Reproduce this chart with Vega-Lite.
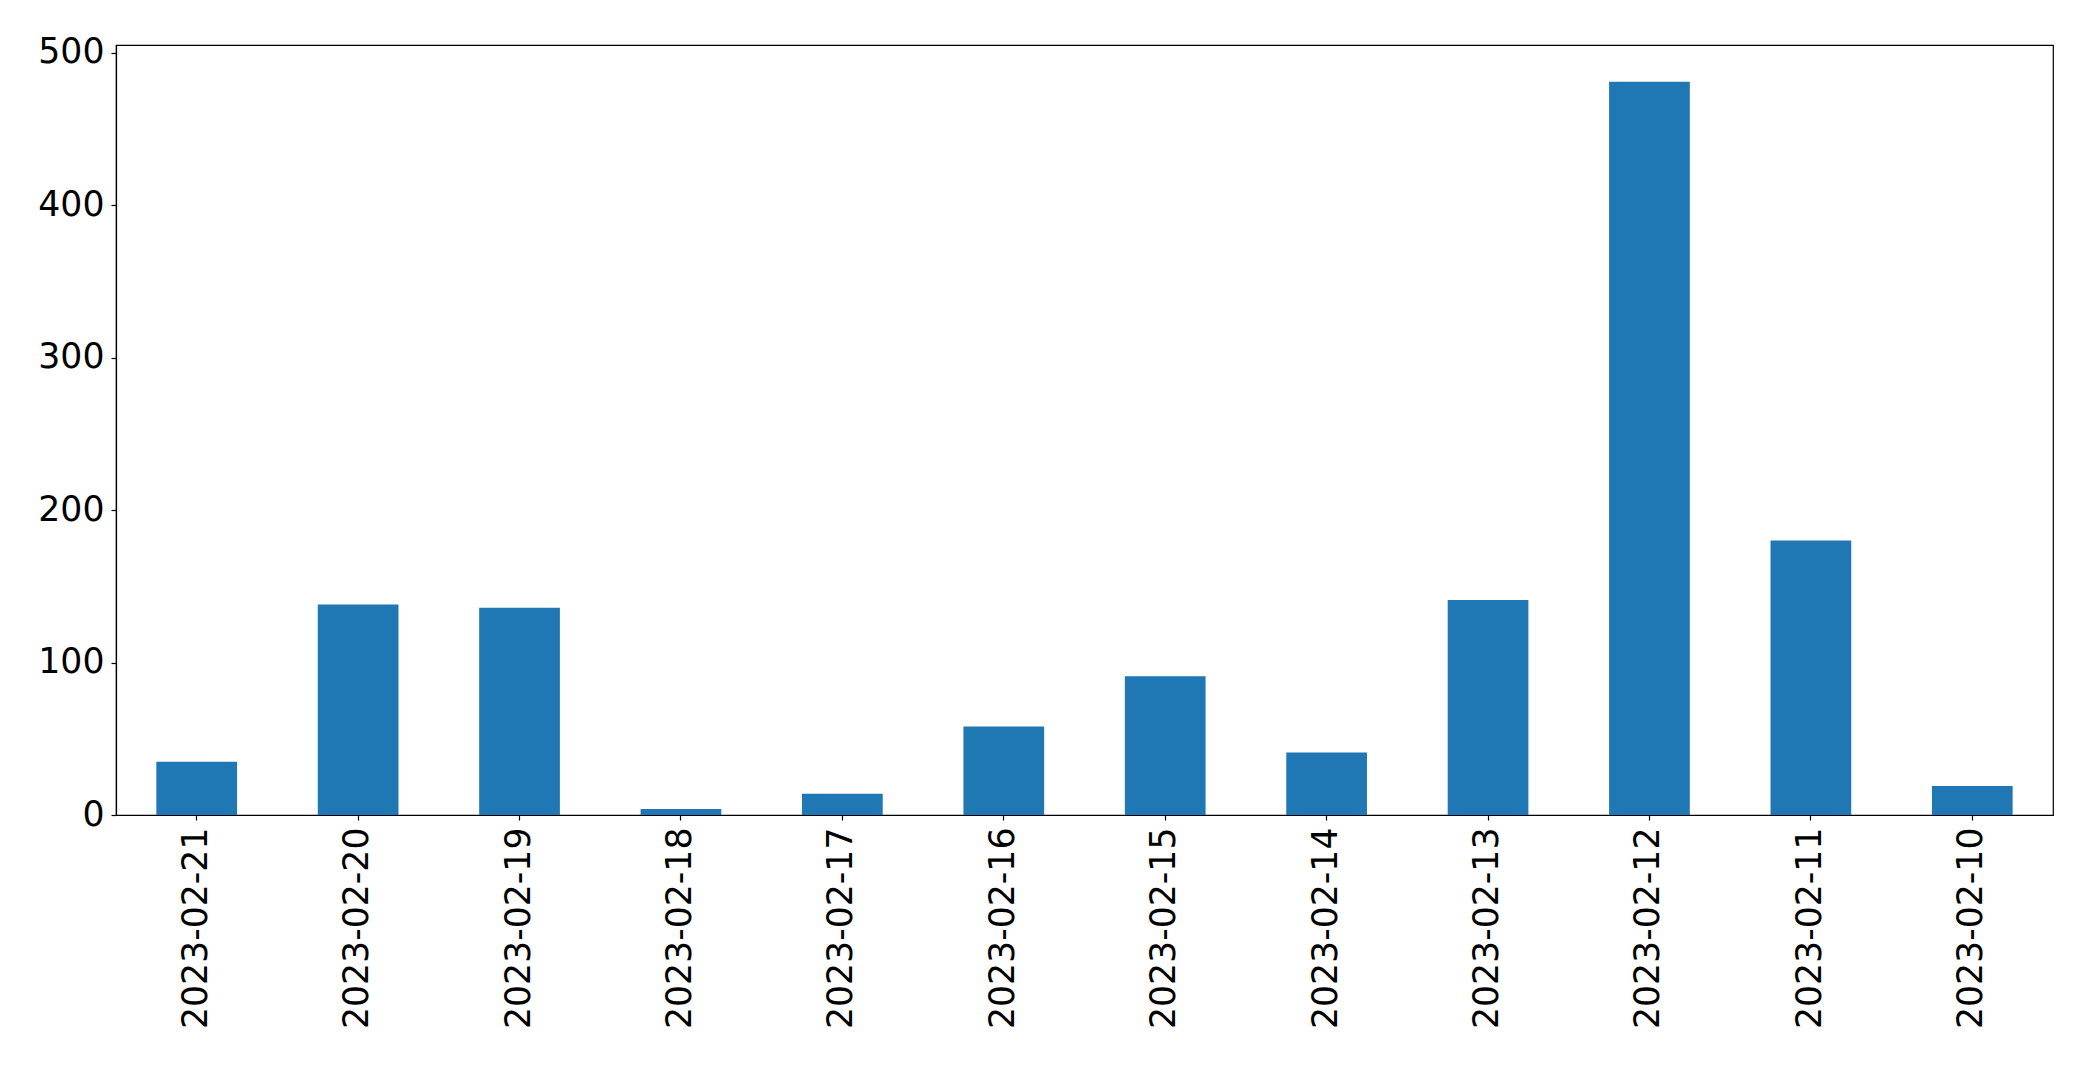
{
  "$schema": "https://vega.github.io/schema/vega-lite/v6.json",
  "autosize": {"type": "none"},
  "padding": {"left": 116, "top": 45, "right": 40, "bottom": 252},
  "width": 1937,
  "height": 770,
  "background": "white",
  "data": {
    "values": [
      {"date": "2023-02-21", "count": 35},
      {"date": "2023-02-20", "count": 138},
      {"date": "2023-02-19", "count": 136},
      {"date": "2023-02-18", "count": 4},
      {"date": "2023-02-17", "count": 14},
      {"date": "2023-02-16", "count": 58},
      {"date": "2023-02-15", "count": 91},
      {"date": "2023-02-14", "count": 41},
      {"date": "2023-02-13", "count": 141},
      {"date": "2023-02-12", "count": 481},
      {"date": "2023-02-11", "count": 180},
      {"date": "2023-02-10", "count": 19}
    ]
  },
  "mark": {"type": "bar", "color": "#1f77b4"},
  "encoding": {
    "x": {
      "field": "date",
      "type": "nominal",
      "sort": null,
      "title": null,
      "scale": {"paddingInner": 0.5, "paddingOuter": 0.25},
      "axis": {
        "labelAngle": -90,
        "labelFont": "DejaVu Sans",
        "labelFontSize": 34.7,
        "labelColor": "black",
        "labelPadding": 7,
        "labelLimit": 0,
        "tickSize": 5,
        "tickColor": "black",
        "domainColor": "black",
        "labelBaseline": "middle",
        "labelAlign": "right"
      }
    },
    "y": {
      "field": "count",
      "type": "quantitative",
      "title": null,
      "scale": {"domain": [0, 505.05], "nice": false, "zero": true},
      "axis": {
        "values": [0, 100, 200, 300, 400, 500],
        "grid": false,
        "labelFont": "DejaVu Sans",
        "labelFontSize": 34.7,
        "labelColor": "black",
        "labelPadding": 7,
        "tickSize": 5,
        "tickColor": "black",
        "domainColor": "black"
      }
    }
  },
  "config": {
    "view": {"stroke": "black", "strokeWidth": 1.2},
    "axis": {"domainWidth": 1.2, "tickWidth": 1.2}
  }
}
